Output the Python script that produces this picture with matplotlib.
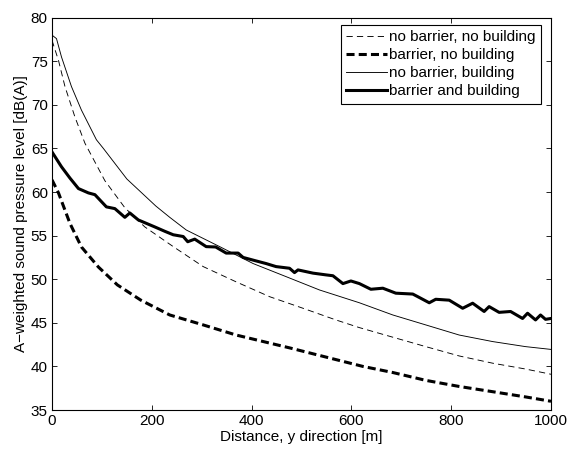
import matplotlib
matplotlib.use("Agg")
import matplotlib.pyplot as plt

plt.rcParams['font.family'] = ['Liberation Sans', 'DejaVu Sans']
plt.rcParams['lines.scale_dashes'] = False

# no barrier, no building (thin dashed)
x_nb_nbd = [0, 13, 26, 46, 66, 106, 146, 186, 243, 303, 369, 436, 503, 569, 616,
            683, 749, 816, 883, 949, 1000]
y_nb_nbd = [77.4, 75.1, 72.1, 68.6, 65.6, 61.3, 58.2, 56.0, 53.74, 51.45, 49.7,
            48.0, 46.67, 45.33, 44.45, 43.35, 42.27, 41.2, 40.37, 39.7, 39.1]

# barrier, no building (thick dashed)
x_b_nbd = [0, 13, 36, 59, 93, 131, 178, 236, 303, 369, 478, 623, 683, 749, 816,
           883, 949, 1000]
y_b_nbd = [61.4, 59.9, 56.4, 53.7, 51.4, 49.35, 47.6, 45.9, 44.76, 43.6, 42.1,
           40.0, 39.3, 38.4, 37.7, 37.1, 36.5, 36.0]

# no barrier, building (thin solid)
x_nb_bd = [0, 9, 19, 39, 59, 89, 103, 150, 208, 236, 269, 336, 403, 469, 536, 616,
           683, 749, 816, 883, 949, 1000]
y_nb_bd = [78.0, 77.6, 75.5, 72.1, 69.4, 66.0, 65.0, 61.5, 58.4, 57.1, 55.65, 53.74,
           51.8, 50.3, 48.77, 47.3, 45.9, 44.76, 43.6, 42.85, 42.27, 41.95]

# barrier and building (thick solid)
x_b_bd = [0, 19, 36, 53, 73, 86, 109, 126, 146, 156, 173, 206, 226, 243, 263, 272,
          286, 309, 328, 349, 373, 383, 409, 429, 449, 476, 486, 493, 523, 549, 563,
          583, 599, 616, 639, 663, 689, 723, 733, 756, 769, 796, 823, 843, 866, 876,
          896, 919, 943, 953, 969, 979, 989, 1000]
y_b_bd = [64.6, 62.9, 61.6, 60.4, 59.9, 59.7, 58.3, 58.1, 57.1, 57.6, 56.8, 56.0,
          55.5, 55.1, 54.9, 54.3, 54.6, 53.74, 53.7, 53.0, 53.0, 52.5, 52.1, 51.8,
          51.45, 51.26, 50.76, 51.07, 50.7, 50.5, 50.4, 49.5, 49.8, 49.5, 48.85, 48.97,
          48.4, 48.3, 48.0, 47.3, 47.7, 47.6, 46.67, 47.25, 46.3, 46.86, 46.2, 46.3,
          45.5, 46.1, 45.33, 45.9, 45.4, 45.5]

labels = ['no barrier, no building', 'barrier, no building',
          'no barrier, building', 'barrier and building']
xticks = [0, 200, 400, 600, 800, 1000]
yticks = [35, 40, 45, 50, 55, 60, 65, 70, 75, 80]

fig = plt.figure(figsize=(5.68, 4.5), dpi=100)
ax = fig.add_axes([52/568, 1-410/450, 499/568, (410-17.7)/450])

ax.plot(x_nb_nbd, y_nb_nbd, color='black', lw=0.65, linestyle=(0, (4.5, 3)), label=labels[0])
ax.plot(x_b_nbd, y_b_nbd, color='black', lw=2.2, linestyle=(0, (5.8, 3)), label=labels[1])
ax.plot(x_nb_bd, y_nb_bd, color='black', lw=0.65, label=labels[2])
ax.plot(x_b_bd, y_b_bd, color='black', lw=2.2, label=labels[3])

ax.set_xlim(0, 1000)
ax.set_ylim(35, 80)
ax.set_xticks(xticks)
ax.set_yticks(yticks)
ax.tick_params(direction='in', top=True, right=True, length=3.5, width=0.6,
               labelsize=11, colors='black', pad=3)
for s in ax.spines.values():
    s.set_linewidth(0.8)

ax.set_xlabel('Distance, y direction [m]', fontsize=11, labelpad=1)
ax.set_ylabel('A\u2212weighted sound pressure level [dB(A)]', fontsize=11, labelpad=2)

leg = ax.legend(loc='upper right', bbox_to_anchor=(0.9794, 0.9814), fontsize=11,
                frameon=True, fancybox=False, edgecolor='black', framealpha=1,
                handlelength=2.7, handletextpad=0.1, labelspacing=0.26,
                borderpad=0.35, borderaxespad=0)
leg.get_frame().set_linewidth(0.8)

fig.savefig('out.png', dpi=100)
